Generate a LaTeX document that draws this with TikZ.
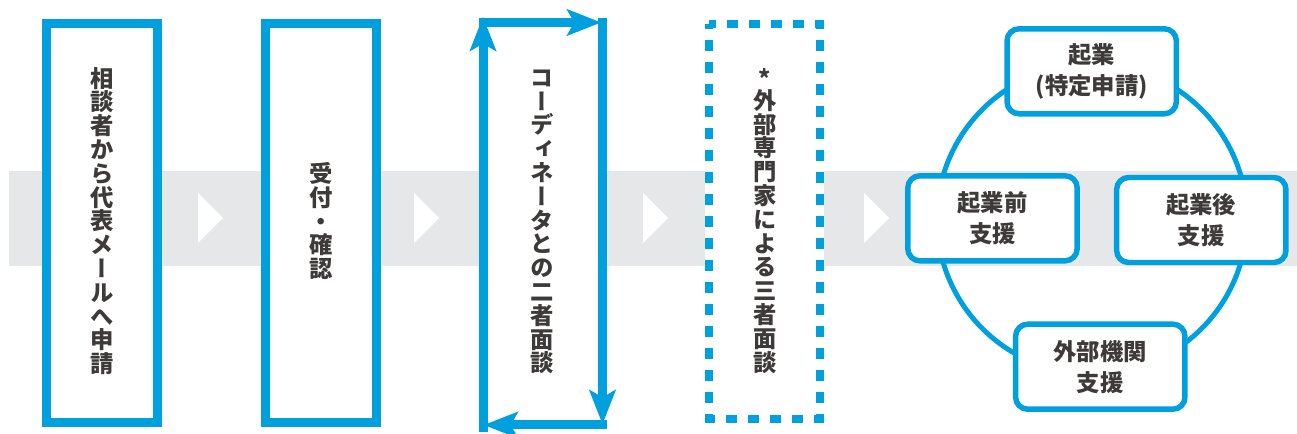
\documentclass[tikz,border=0pt]{standalone}
\usepackage{fontspec}
\usepackage{graphicx}
\setmainfont{Noto Sans CJK JP}
\newfontfamily\jpv{Noto Sans CJK JP}[RawFeature=+vert]
\usetikzlibrary{arrows.meta}
\definecolor{blu}{HTML}{00A0DF}
\definecolor{bandc}{HTML}{E6E7E8}
\definecolor{txt}{HTML}{3E3A39}
\tikzset{
  flowbox/.style={draw=blu, line width=6.75pt, fill=white, minimum width=83.25pt, minimum height=299.25pt, inner sep=0pt, outer sep=0pt},
  vtext/.style={font=\jpv\bfseries\fontsize{17.5}{17.85}\selectfont, text=txt, align=center, inner sep=0pt},
  ctext/.style={font=\bfseries\fontsize{17.5}{23.25}\selectfont, text=txt, align=center},
  rbox/.style={draw=blu, fill=white, line width=4.1pt, rounded corners=9pt, minimum width=127pt, minimum height=63.75pt, inner sep=0pt, ctext},
  cyc/.style={-{Stealth[length=26pt, width=20.5pt, inset=6pt, line width=0pt]}, draw=blu, line width=6.75pt},
  dashbox/.style={draw=blu, line width=6pt, dash pattern=on 8.25pt off 8.25pt, dash phase=4.1pt},
  chevron/.style={fill=white, draw=none},
}
\begin{document}
\begin{tikzpicture}[x=0.75pt,y=-0.75pt]
\useasboundingbox (0,0) rectangle (1297,434);
% grey band
\fill[bandc] (9,171) rectangle (1297,266);
% chevrons
\foreach \cx in {198,414,643,864}{
  \fill[chevron] (\cx,193) -- (\cx+25,218) -- (\cx,243) -- cycle;
}
% box 1
\node[flowbox] (b1) at (102,223) {};
\node[vtext] (t1) at (102,221) {相\\談\\者\\か\\ら\\代\\表\\メ\\ー\\ル\\へ\\申\\請};
% box 2
\node[flowbox] (b2) at (321,223.5) {};
\node[vtext] (t2) at (321,221) {受\\付\\・\\確\\認};
% box 3 with circulating arrows
\coordinate (c3a) at (483,432);
\coordinate (c3b) at (483,17);
\coordinate (c3c) at (479,22.5);
\coordinate (c3d) at (601,22.5);
\coordinate (c3e) at (602.5,18.5);
\coordinate (c3f) at (602.5,424);
\coordinate (c3g) at (606.5,425);
\coordinate (c3h) at (484,425);
\fill[white] (483,22.5) rectangle (602.5,425);
\draw[cyc] (c3a) -- (c3b);
\draw[cyc] (c3c) -- (c3d);
\draw[cyc] (c3e) -- (c3f);
\draw[cyc] (c3g) -- (c3h);
\node[vtext] (t3) at (542.5,222) {コ\\ー\\デ\\ィ\\ネ\\ー\\タ\\と\\の\\二\\者\\面\\談};
% box 4 dashed
\node[fill=white, minimum width=89.6pt, minimum height=302.6pt, inner sep=0pt, outer sep=0pt] (b4) at (764.25,221.25) {};
\draw[dashbox] ([shift={(4,4)}]b4.north west) rectangle ([shift={(-4,-4)}]b4.south east);
\node[vtext] (t4) at (765,221) {*\\[-1.5pt]外\\部\\専\\門\\家\\に\\よ\\る\\三\\者\\面\\談};
% cycle of support
\node[circle, draw=blu, line width=3.75pt, minimum size=232.5pt, inner sep=0pt] (ring) at (1092,219) {};
\node[rbox] (top) at (1091.7,71.3) {起業\\(特定申請)};
\node[rbox] (lft) at (992.5,218.3) {起業前\\支援};
\node[rbox] (rgt) at (1201.3,220) {起業後\\支援};
\node[rbox] (bot) at (1100.3,366.7) {外部機関\\支援};
\end{tikzpicture}
\end{document}
